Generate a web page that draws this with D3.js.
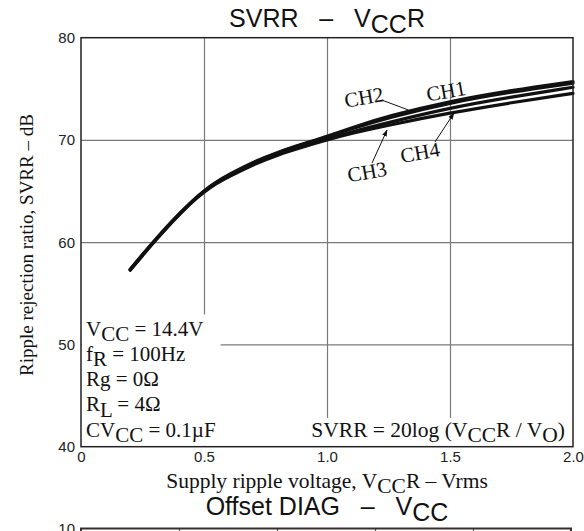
<!DOCTYPE html>
<html>
<head>
<meta charset="utf-8">
<script src="https://cdn.jsdelivr.net/npm/d3@7"></script>
<style>
body { margin: 0; background: #fff; }
svg { display: block; }
.tick text { font-family: "Liberation Sans", Arial, sans-serif; font-size: 15px; fill: #222; }
.sans { font-family: "Liberation Sans", Arial, sans-serif; fill: #111; }
.serif { font-family: "Liberation Serif", "Times New Roman", serif; fill: #111; }
</style>
</head>
<body>
<svg></svg>
<script>
// SVRR vs VCCR

var vccr = [0.2, 0.25, 0.3, 0.35, 0.4, 0.45, 0.5, 0.55, 0.6, 0.7, 0.8, 0.9, 1.0, 1.1, 1.25, 1.5, 1.75, 2.0]
var ch1 = [57.35, 58.8, 60.2, 61.55, 62.8, 64.0, 65.05, 65.9, 66.6, 67.85, 68.8, 69.6, 70.35, 71.2, 72.35, 73.8, 74.85, 75.7]
var ch2 = [57.3, 58.75, 60.15, 61.5, 62.75, 63.95, 65.0, 65.85, 66.55, 67.8, 68.75, 69.55, 70.3, 71.1, 72.2, 73.65, 74.7, 75.55]
var ch3 = [57.3, 58.75, 60.15, 61.5, 62.75, 63.95, 64.95, 65.8, 66.45, 67.7, 68.6, 69.4, 70.1, 70.8, 71.7, 73.15, 74.2, 75.15]
var ch4 = [57.25, 58.7, 60.1, 61.45, 62.7, 63.9, 64.9, 65.75, 66.4, 67.6, 68.55, 69.3, 70.0, 70.65, 71.45, 72.65, 73.65, 74.56]

var xTicks = [0, 0.5, 1.0, 1.5, 2.0]
var xTickLabels = ['0', '0.5', '1.0', '1.5', '2.0']
var yTicks = [40, 50, 60, 70, 80]

// channel labels and their pointers (data units)
var chNames = ['CH1', 'CH2', 'CH3', 'CH4']
var chLabelX = [1.484, 1.15, 1.163, 1.378]
var chLabelY = [74.8, 74.2, 66.9, 68.8]
var pointerFrom = [null, [1.223, 73.9], [1.183, 67.74], [1.439, 69.8]]
var pointerTo = [null, [1.331, 72.93], [1.244, 70.97], [1.516, 72.63]]
var pointerArrow = [false, false, true, true]

// conditions text: [main, subscript, rest]
var conditions = [['V', 'CC', ' = 14.4V'], ['f', 'R', ' = 100Hz'], ['Rg = 0Ω', '', ''], ['R', 'L', ' = 4Ω'], ['CV', 'CC', ' = 0.1µF']]
var formula = [['SVRR = 20log (V', false], ['CC', true], ['R / V', false], ['O', true], [')', false]]

// second chart (only its top edge shows)
var vccTicks = [8, 10, 12, 14, 16, 18]
var offsetTicks = [10]

var width = 584, height = 531

var svg = d3.select('svg')
    .attr('width', width)
    .attr('height', height)

var x = d3.scaleLinear().domain([0, 2]).range([81, 573])
var y = d3.scaleLinear().domain([40, 80]).range([446.7, 37.7])

var defs = svg.append('defs')
defs.append('marker')
    .attr('id', 'arrow')
    .attr('viewBox', '0 0 10 10')
    .attr('refX', 9).attr('refY', 5)
    .attr('markerWidth', 7).attr('markerHeight', 7)
    .attr('orient', 'auto')
    .append('path')
    .attr('d', 'M0,1.5 L10,5 L0,8.5 Z')
    .attr('fill', '#111')

// grid
var grid = svg.append('g')
grid.append('g')
    .attr('transform', 'translate(0,' + y(40) + ')')
    .call(d3.axisBottom(x).tickValues([0.5, 1.0, 1.5]).tickSize(-(y(40) - y(80))).tickFormat(''))
    .call(g => g.select('.domain').remove())
grid.append('g')
    .attr('transform', 'translate(' + x(0) + ',0)')
    .call(d3.axisLeft(y).tickValues([50, 60, 70]).tickSize(-(x(2) - x(0))).tickFormat(''))
    .call(g => g.select('.domain').remove())
grid.selectAll('line').attr('stroke', '#7a7a7a').attr('stroke-width', 1.2)

// axes labels
svg.append('g')
    .attr('transform', 'translate(' + (x(0) - 6) + ',0)')
    .call(d3.axisLeft(y).tickValues(yTicks).tickSize(0).tickPadding(0))
    .call(g => g.select('.domain').remove())

svg.append('g')
    .attr('transform', 'translate(0,' + (y(40) + 5) + ')')
    .call(d3.axisBottom(x).tickValues(xTicks).tickSize(0).tickPadding(0).tickFormat((d, i) => xTickLabels[i]))
    .call(g => g.select('.domain').remove())

// white boxes for the notes, then the notes
var notes = svg.append('g')
var condBox = notes.append('rect').attr('fill', '#fff')
var condText = notes.append('g')
conditions.forEach(function(c, i) {
    var t = condText.append('text')
        .attr('class', 'serif')
        .attr('x', x(0) + 5)
        .attr('y', 335.5 + i * 25.3)
        .style('font-size', '21px')
    t.append('tspan').text(c[0])
    if (c[1]) {
        t.append('tspan').attr('dy', '0.25em').text(c[1])
        t.append('tspan').attr('dy', '-0.25em').text(c[2])
    }
})
var cb = condText.node().getBBox()
condBox.attr('x', x(0) + 1).attr('y', cb.y - 2)
    .attr('width', cb.x + cb.width + 4 - x(0)).attr('height', y(40) - cb.y + 1)

var formBox = notes.append('rect').attr('fill', '#fff')
var formText = notes.append('text')
    .attr('class', 'serif')
    .attr('x', x(2) - 8)
    .attr('y', 437)
    .attr('text-anchor', 'end')
    .style('font-size', '21.5px')
formula.forEach(function(p, i) {
    var prevSub = i > 0 && formula[i - 1][1]
    formText.append('tspan')
        .attr('dy', p[1] ? '0.25em' : (prevSub ? '-0.25em' : null))
        .text(p[0])
})
var fb = formText.node().getBBox()
formBox.attr('x', fb.x - 4).attr('y', fb.y)
    .attr('width', x(2) - fb.x + 3).attr('height', y(40) - fb.y)

// curves
var line = d3.line()
    .x((d, i) => x(vccr[i]))
    .y(d => y(d))
    .curve(d3.curveBasis)

svg.append('g')
    .selectAll('path')
    .data([ch3, ch4, ch2, ch1])
    .join('path')
    .attr('d', line)
    .attr('fill', 'none')
    .attr('stroke', '#111')
    .attr('stroke-width', 3.2)
    .attr('stroke-linecap', 'round')

// frame
svg.append('rect')
    .attr('x', x(0)).attr('y', y(80))
    .attr('width', x(2) - x(0)).attr('height', y(40) - y(80))
    .attr('fill', 'none')
    .attr('stroke', '#222')
    .attr('stroke-width', 1.5)

// channel labels
chNames.forEach(function(n, i) {
    svg.append('text')
        .attr('class', 'serif')
        .attr('transform', 'translate(' + x(chLabelX[i]) + ',' + y(chLabelY[i]) + ') rotate(-10)')
        .attr('text-anchor', 'middle')
        .attr('dy', '0.35em')
        .style('font-size', '21px')
        .text(n)
    if (pointerFrom[i]) {
        svg.append('line')
            .attr('x1', x(pointerFrom[i][0])).attr('y1', y(pointerFrom[i][1]))
            .attr('x2', x(pointerTo[i][0])).attr('y2', y(pointerTo[i][1]))
            .attr('stroke', '#111')
            .attr('stroke-width', 1)
            .attr('marker-end', pointerArrow[i] ? 'url(#arrow)' : null)
    }
})

// titles
function subTitle(sel, parts) {
    parts.forEach(function(p, i) {
        var prevSub = i > 0 && parts[i - 1][1]
        sel.append('tspan')
            .attr('dy', p[1] ? '0.25em' : (prevSub ? '-0.25em' : null))
            .text(p[0])
    })
}

var t1 = svg.append('text')
    .attr('class', 'sans')
    .attr('x', 327).attr('y', 27)
    .attr('text-anchor', 'middle')
    .style('font-size', '25px')
    .style('white-space', 'pre')
subTitle(t1, [['SVRR   –   V', false], ['CC', true], ['R', false]])

svg.append('text')
    .attr('class', 'serif')
    .attr('transform', 'translate(33,245) rotate(-90)')
    .attr('text-anchor', 'middle')
    .style('font-size', '19px')
    .text('Ripple rejection ratio, SVRR – dB')

var xl = svg.append('text')
    .attr('class', 'serif')
    .attr('x', 327).attr('y', 488)
    .attr('text-anchor', 'middle')
    .style('font-size', '21.5px')
subTitle(xl, [['Supply ripple voltage, V', false], ['CC', true], ['R – Vrms', false]])

var t2 = svg.append('text')
    .attr('class', 'sans')
    .attr('x', 327).attr('y', 515)
    .attr('text-anchor', 'middle')
    .style('font-size', '25px')
    .style('white-space', 'pre')
subTitle(t2, [['Offset DIAG   –   V', false], ['CC', true]])

// second chart, cut off at the bottom
var x2 = d3.scaleLinear().domain([8, 18]).range([81, 571])
var y2 = d3.scaleLinear().domain([-10, 10]).range([928.5, 528.5])

svg.append('g')
    .attr('transform', 'translate(0,' + y2(-10) + ')')
    .call(d3.axisBottom(x2).tickValues(vccTicks.slice(1, -1)).tickSize(-(y2(-10) - y2(10))).tickFormat(''))
    .call(g => g.select('.domain').remove())
    .selectAll('line').attr('stroke', '#555').attr('stroke-width', 1.2)

svg.append('rect')
    .attr('x', x2(8)).attr('y', y2(10))
    .attr('width', x2(18) - x2(8)).attr('height', y2(-10) - y2(10))
    .attr('fill', 'none')
    .attr('stroke', '#3a2c2c')
    .attr('stroke-width', 2)

svg.append('g')
    .attr('transform', 'translate(' + (x2(8) - 6) + ',0)')
    .call(d3.axisLeft(y2).tickValues(offsetTicks).tickSize(0).tickPadding(0))
    .call(g => g.select('.domain').remove())
</script>
</body>
</html>
